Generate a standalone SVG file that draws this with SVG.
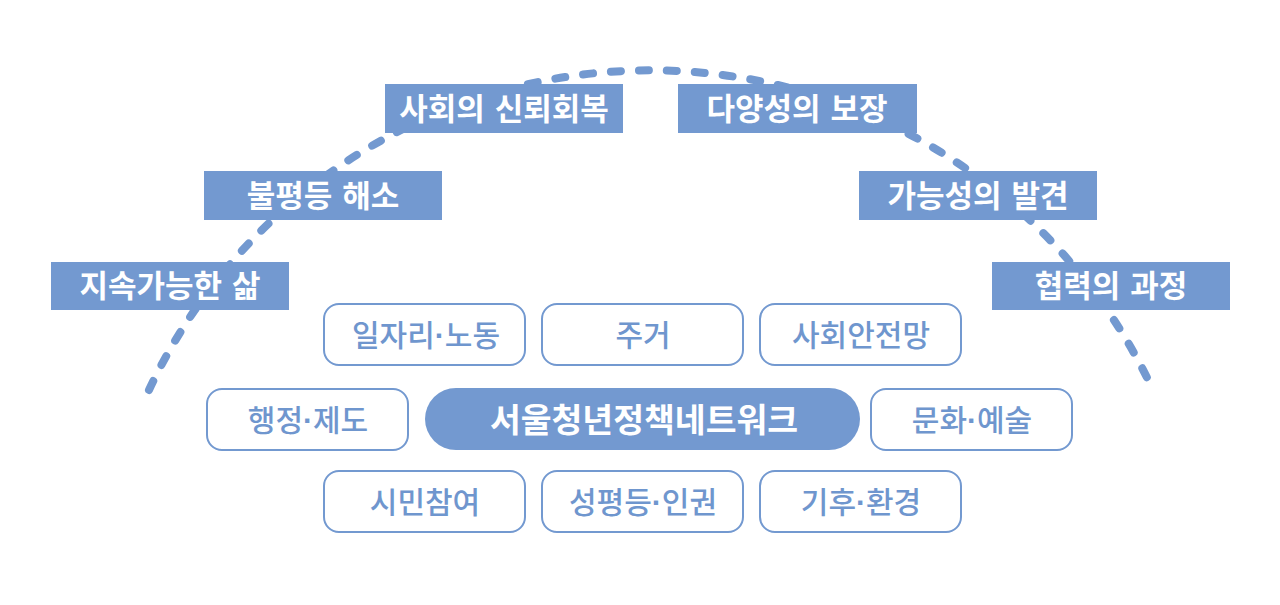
<svg xmlns="http://www.w3.org/2000/svg" width="1280" height="605" viewBox="0 0 1280 605">
<style>
  .lbl rect { fill: #7399D0; }
  .lbl text { fill: #FFFFFF; font-family: "Noto Sans CJK KR", "Noto Sans", sans-serif; font-size: 31px; font-weight: 700; text-anchor: middle; word-spacing: 3px; }
  .box rect { fill: #FFFFFF; stroke: #7399D0; stroke-width: 2; }
  .box text { fill: #6F96CE; font-family: "Noto Sans CJK KR", "Noto Sans", sans-serif; font-size: 30px; font-weight: 500; text-anchor: middle; }
  .dot { font-family: "Liberation Sans", sans-serif; font-weight: 700; }
  .hub rect { fill: #7399D0; }
  .hub text { fill: #FFFFFF; font-family: "Noto Sans CJK KR", "Noto Sans", sans-serif; font-size: 33.5px; font-weight: 700; text-anchor: middle; }
  .arc { fill: none; stroke: #7399D0; stroke-width: 8; stroke-linecap: round; stroke-dasharray: 10 18; }
</style>
<rect width="1280" height="605" fill="#FFFFFF"/>
<g id="connectors">
  <path class="arc" d="M 149 390 A 554 554 0 0 1 1153 390"/>
</g>
<g id="label-sustainable" class="lbl"><rect x="51" y="262" width="238" height="48"/><text x="170" y="297">지속가능한 삶</text></g>
<g id="label-inequality" class="lbl"><rect x="204" y="171" width="238" height="49"/><text x="323" y="207">불평등 해소</text></g>
<g id="label-trust" class="lbl"><rect x="385" y="84" width="238" height="49"/><text x="504" y="120">사회의 신뢰회복</text></g>
<g id="label-diversity" class="lbl"><rect x="678" y="84" width="239" height="49"/><text x="797" y="120">다양성의 보장</text></g>
<g id="label-possibility" class="lbl"><rect x="859" y="171" width="238" height="49"/><text x="978" y="207">가능성의 발견</text></g>
<g id="label-cooperation" class="lbl"><rect x="992" y="262" width="238" height="48"/><text x="1111" y="297">협력의 과정</text></g>
<g id="box-jobs" class="box"><rect x="324" y="304" width="201" height="61" rx="15"/><text x="426" y="346">일자리<tspan class="dot">·</tspan>노동</text></g>
<g id="box-housing" class="box"><rect x="542" y="304" width="201" height="61" rx="15"/><text x="643" y="346">주거</text></g>
<g id="box-safety" class="box"><rect x="760" y="304" width="201" height="61" rx="15"/><text x="861" y="346">사회안전망</text></g>
<g id="box-admin" class="box"><rect x="207" y="389" width="201" height="61" rx="15"/><text x="308" y="431">행정<tspan class="dot">·</tspan>제도</text></g>
<g id="hub" class="hub"><rect x="425" y="388" width="435" height="62" rx="31"/><text x="644" y="432">서울청년정책네트워크</text></g>
<g id="box-culture" class="box"><rect x="871" y="389" width="201" height="61" rx="15"/><text x="972" y="431">문화<tspan class="dot">·</tspan>예술</text></g>
<g id="box-participation" class="box"><rect x="324" y="471" width="201" height="61" rx="15"/><text x="425" y="513">시민참여</text></g>
<g id="box-gender" class="box"><rect x="542" y="471" width="201" height="61" rx="15"/><text x="643" y="513">성평등<tspan class="dot">·</tspan>인권</text></g>
<g id="box-climate" class="box"><rect x="760" y="471" width="201" height="61" rx="15"/><text x="861" y="513">기후<tspan class="dot">·</tspan>환경</text></g>
</svg>
